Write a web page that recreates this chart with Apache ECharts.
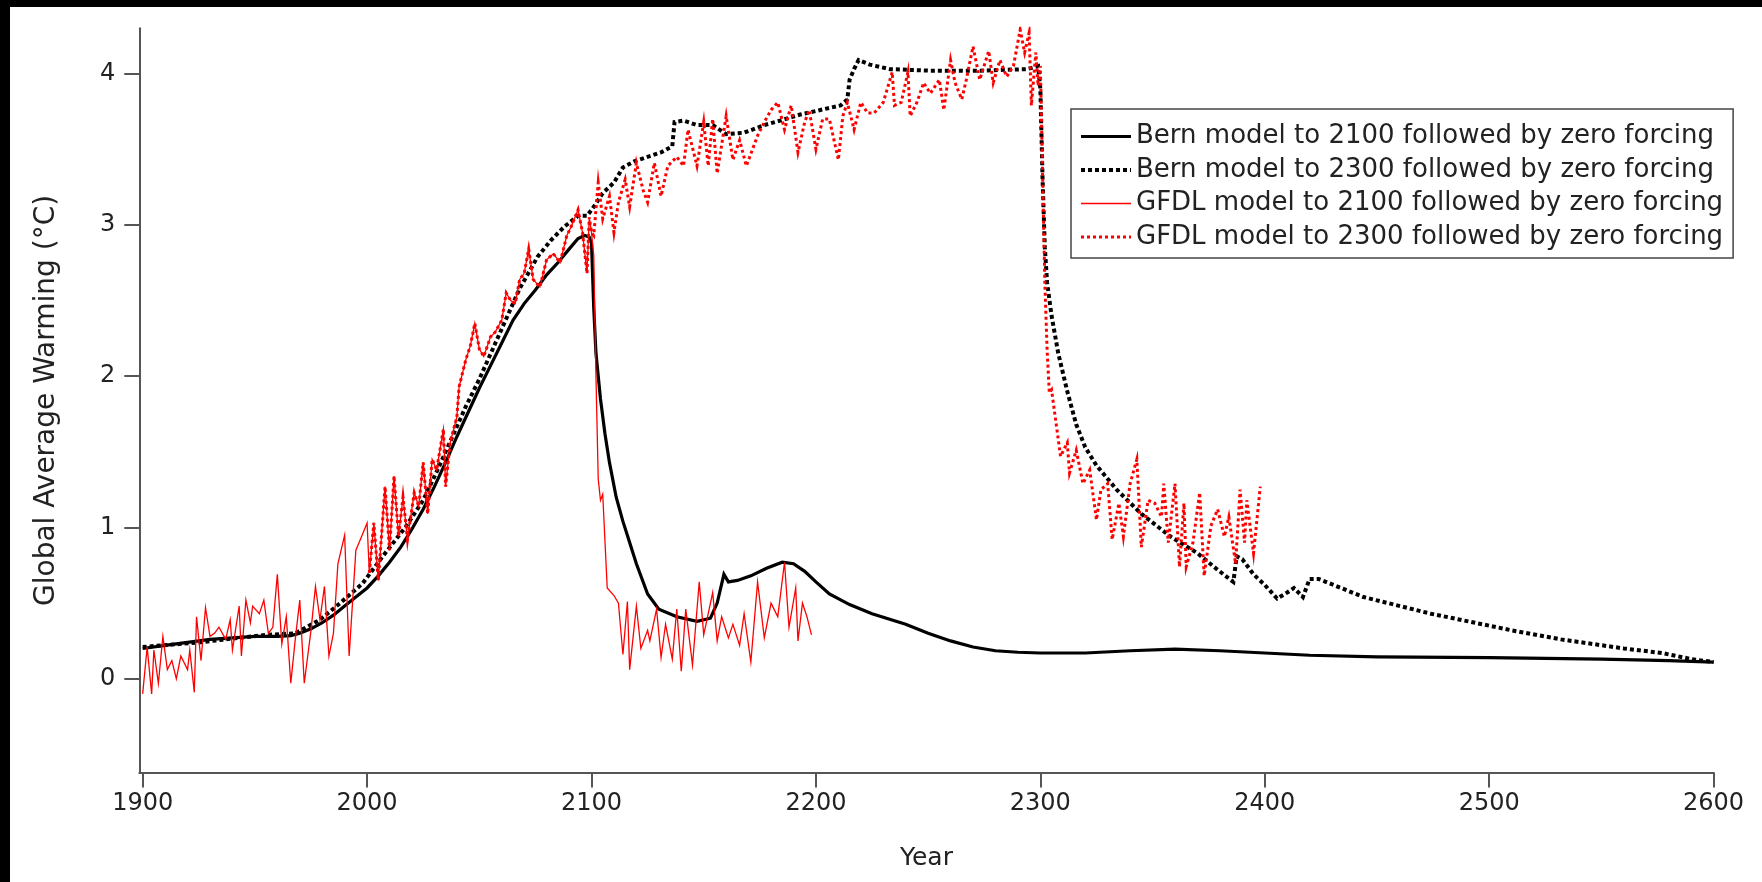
<!DOCTYPE html>
<html><head><meta charset="utf-8">
<script src="https://cdn.jsdelivr.net/npm/echarts@6/dist/echarts.min.js"></script>
<style>
html,body{margin:0;padding:0;background:#000;width:1762px;height:882px;overflow:hidden}
#chart{position:absolute;left:10px;top:7px;width:1752px;height:875px;background:#fff}
</style></head><body><div id="chart"></div>
<script>
// ---- data ----
const seriesNames = [
  'Bern model to 2100 followed by zero forcing',
  'Bern model to 2300 followed by zero forcing',
  'GFDL model to 2100 followed by zero forcing',
  'GFDL model to 2300 followed by zero forcing'
];
const xTicks = [1900, 2000, 2100, 2200, 2300, 2400, 2500, 2600];
const yTicks = [0, 1, 2, 3, 4];

const bern2100 = [[1900,0.20],[1910,0.22],[1920,0.24],[1930,0.26],[1940,0.27],[1950,0.28],[1960,0.28],[1966,0.285],[1970,0.30],[1975,0.33],[1980,0.37],[1985,0.42],[1990,0.48],[1995,0.54],[2000,0.60],[2005,0.68],[2010,0.77],[2015,0.87],[2020,0.99],[2025,1.12],[2030,1.27],[2035,1.43],[2040,1.60],[2045,1.76],[2050,1.92],[2055,2.07],[2060,2.22],[2065,2.37],[2070,2.48],[2075,2.57],[2080,2.67],[2085,2.75],[2090,2.84],[2094,2.91],[2097,2.93],[2099,2.92],[2100,2.88],[2101,2.45],[2102,2.15],[2104,1.85],[2106,1.62],[2108,1.43],[2111,1.20],[2114,1.04],[2117,0.90],[2120,0.76],[2125,0.56],[2130,0.46],[2138,0.41],[2147,0.38],[2153,0.40],[2156,0.50],[2159,0.69],[2161,0.64],[2165,0.65],[2171,0.68],[2178,0.73],[2185,0.77],[2190,0.76],[2195,0.71],[2200,0.64],[2206,0.56],[2215,0.49],[2225,0.43],[2240,0.36],[2250,0.30],[2260,0.25],[2270,0.21],[2280,0.185],[2290,0.175],[2300,0.17],[2320,0.17],[2340,0.185],[2360,0.195],[2380,0.185],[2400,0.17],[2420,0.155],[2450,0.145],[2500,0.14],[2550,0.13],[2580,0.12],[2600,0.11]];

const bern2300 = [[1900,0.21],[1925,0.24],[1955,0.29],[1968,0.30],[1979,0.39],[1988,0.50],[1998,0.63],[2007,0.81],[2017,1.00],[2025,1.18],[2032,1.40],[2038,1.60],[2044,1.80],[2050,1.98],[2056,2.18],[2062,2.38],[2068,2.58],[2076,2.79],[2082,2.90],[2088,2.99],[2094,3.06],[2098,3.06],[2101,3.12],[2105,3.21],[2110,3.28],[2114,3.38],[2119,3.42],[2125,3.45],[2131,3.48],[2136,3.52],[2137,3.68],[2141,3.69],[2147,3.66],[2154,3.66],[2160,3.60],[2168,3.61],[2177,3.66],[2184,3.69],[2193,3.73],[2202,3.76],[2211,3.79],[2214,3.83],[2215,3.96],[2217,4.03],[2219,4.09],[2224,4.06],[2233,4.03],[2251,4.02],[2273,4.02],[2294,4.03],[2299,4.05],[2300,3.90],[2301,3.30],[2302,2.85],[2303,2.62],[2305,2.40],[2308,2.15],[2312,1.90],[2316,1.68],[2320,1.53],[2325,1.41],[2334,1.25],[2345,1.09],[2358,0.94],[2370,0.83],[2379,0.72],[2386,0.64],[2387.5,0.81],[2390,0.79],[2395,0.69],[2400,0.62],[2405.5,0.53],[2410,0.57],[2413,0.60],[2417,0.54],[2420,0.66],[2424,0.66],[2444,0.54],[2474,0.43],[2510,0.32],[2532,0.26],[2560,0.20],[2577,0.17],[2590,0.13],[2600,0.11]];

// GFDL historical run (solid red only)
const gfdlHist = [[1900,-0.10],[1902,0.21],[1904,-0.10],[1905,0.19],[1907,-0.03],[1909,0.28],[1911,0.06],[1913,0.12],[1915,0.00],[1917,0.15],[1920,0.06],[1921,0.19],[1923,-0.09],[1924,0.41],[1926,0.12],[1928,0.47],[1930,0.28],[1932,0.30],[1934,0.34],[1937,0.26],[1939,0.39],[1940,0.19],[1943,0.48],[1944,0.15],[1946,0.52],[1948,0.37],[1949,0.48],[1952,0.43],[1954,0.52],[1956,0.30],[1958,0.34],[1960,0.69],[1962,0.23],[1964,0.41],[1966,-0.03],[1968,0.26],[1970,0.52],[1972,-0.03],[1975,0.32],[1977,0.61],[1979,0.39],[1981,0.61],[1983,0.15],[1985,0.30],[1987,0.76],[1990,0.95],[1992,0.15],[1995,0.85],[1997,0.92],[2000,1.03]];
// GFDL scenario 2000-2100 (shared by both GFDL runs)
const gfdlScen = [[2001,0.70],[2003,1.03],[2005,0.65],[2008,1.27],[2010,0.85],[2012,1.34],[2014,0.94],[2016,1.20],[2018,0.92],[2021,1.23],[2023,1.14],[2025,1.43],[2027,1.09],[2029,1.45],[2031,1.38],[2034,1.65],[2035,1.27],[2037,1.56],[2040,1.73],[2041,1.93],[2044,2.11],[2046,2.20],[2048,2.35],[2050,2.18],[2052,2.13],[2055,2.26],[2057,2.29],[2060,2.37],[2062,2.55],[2064,2.50],[2066,2.48],[2068,2.64],[2070,2.68],[2072,2.84],[2074,2.64],[2077,2.59],[2080,2.77],[2083,2.81],[2086,2.75],[2089,2.93],[2091,2.99],[2094,3.10],[2096,2.95],[2098,2.68],[2099,3.05],[2100,2.95]];
// GFDL zero forcing after 2100
const gfdlZero2100 = [[2101,2.80],[2102,1.99],[2103,1.32],[2104,1.18],[2105,1.22],[2107,0.60],[2110,0.55],[2112,0.50],[2114,0.16],[2116,0.51],[2117,0.06],[2120,0.48],[2122,0.20],[2125,0.32],[2126,0.25],[2129,0.46],[2131,0.14],[2133,0.36],[2136,0.13],[2138,0.46],[2140,0.05],[2142,0.46],[2145,0.09],[2148,0.64],[2150,0.29],[2154,0.57],[2156,0.25],[2158,0.41],[2161,0.27],[2163,0.36],[2166,0.22],[2168,0.43],[2171,0.11],[2174,0.64],[2177,0.27],[2180,0.50],[2183,0.41],[2186,0.77],[2188,0.34],[2191,0.60],[2192,0.25],[2194,0.50],[2196,0.41],[2198,0.29]];
// GFDL forcing continued 2100-2300
const gfdlTo2300 = [[2101,2.93],[2103,3.28],[2105,3.04],[2108,3.19],[2110,2.95],[2112,3.15],[2115,3.30],[2117,3.12],[2120,3.41],[2123,3.23],[2125,3.15],[2128,3.41],[2131,3.19],[2134,3.39],[2138,3.45],[2141,3.39],[2143,3.63],[2147,3.39],[2150,3.68],[2152,3.39],[2154,3.70],[2156,3.34],[2160,3.72],[2163,3.43],[2166,3.56],[2169,3.39],[2174,3.59],[2177,3.68],[2180,3.76],[2183,3.81],[2186,3.63],[2189,3.79],[2192,3.48],[2195,3.68],[2197,3.76],[2200,3.50],[2203,3.70],[2206,3.70],[2210,3.43],[2212,3.72],[2214,3.81],[2217,3.63],[2220,3.81],[2223,3.74],[2226,3.74],[2230,3.81],[2234,4.01],[2235,3.79],[2238,3.81],[2241,4.01],[2242,3.72],[2245,3.81],[2248,3.94],[2251,3.87],[2255,3.96],[2257,3.76],[2260,4.09],[2262,3.94],[2265,3.83],[2267,3.96],[2270,4.18],[2273,3.96],[2277,4.15],[2279,3.94],[2282,4.09],[2285,3.98],[2288,4.05],[2291,4.29],[2293,4.14],[2295,4.27],[2296,3.79],[2298,4.14],[2299,3.92],[2300,4.05]];
// GFDL zero forcing after 2300
const gfdlZero2300 = [[2302,2.62],[2303,2.18],[2304,1.89],[2305,1.91],[2307,1.69],[2309,1.47],[2312,1.56],[2313,1.36],[2316,1.51],[2319,1.29],[2322,1.38],[2325,1.05],[2327,1.25],[2330,1.29],[2332,0.92],[2335,1.16],[2337,0.94],[2340,1.29],[2343,1.45],[2345,0.87],[2348,1.18],[2351,1.16],[2354,1.07],[2355,1.29],[2357,0.90],[2360,1.29],[2362,0.74],[2364,1.16],[2365,0.74],[2368,0.90],[2371,1.23],[2373,0.68],[2376,1.01],[2379,1.12],[2382,0.94],[2384,1.07],[2387,0.76],[2389,1.25],[2391,0.90],[2392,1.18],[2395,0.83],[2398,1.27]];

// ---- build ----
const gfdl2100 = gfdlHist.concat(gfdlScen, gfdlZero2100);
const gfdl2300 = gfdlScen.concat(gfdlTo2300, gfdlZero2300);

const FONT = "'DejaVu Sans', Verdana, sans-serif";
const AX = '#555';
const TXT = '#222';

function line(name, data, color, width, type) {
  return {
    name, type: 'line', data, showSymbol: false, symbol: 'none',
    animation: false, clip: true,
    lineStyle: { color, width, type, cap: 'butt', join: 'miter' },
    itemStyle: { color },
    emphasis: { disabled: true }
  };
}

const chart = echarts.init(document.getElementById('chart'), null, { renderer: 'canvas' });
chart.setOption({
  backgroundColor: '#fff',
  animation: false,
  grid: { left: 129.3, top: 21.3, width: 1574.3, height: 744.2, containLabel: false, outerBoundsMode: 'none' },
  xAxis: {
    type: 'value', min: 1898.5, max: 2600,
    name: 'Year', nameLocation: 'middle', nameGap: 73,
    nameTextStyle: { fontFamily: FONT, fontSize: 25, color: TXT },
    axisLine: { show: true, onZero: false, lineStyle: { color: AX, width: 2 } },
    axisTick: { show: true, inside: false, length: 15, customValues: xTicks, lineStyle: { color: AX, width: 2 } },
    axisLabel: { customValues: xTicks, margin: 19, fontFamily: FONT, fontSize: 24, color: TXT,
                 formatter: v => String(Math.round(v)) },
    splitLine: { show: false }
  },
  yAxis: {
    type: 'value', min: -0.62, max: 4.30,
    name: 'Global Average Warming (°C)', nameLocation: 'middle', nameGap: 79, nameRotate: 90,
    nameTextStyle: { fontFamily: FONT, fontSize: 28, color: TXT },
    axisLine: { show: true, onZero: false, lineStyle: { color: AX, width: 2 } },
    axisTick: { show: true, inside: false, length: 15, customValues: yTicks, lineStyle: { color: AX, width: 2 } },
    axisLabel: { customValues: yTicks, margin: 24, fontFamily: FONT, fontSize: 24, color: TXT,
                 formatter: v => String(Math.round(v)) },
    splitLine: { show: false }
  },
  legend: {
    data: seriesNames,
    orient: 'vertical', left: 1061, top: 102,
    backgroundColor: '#fff', borderColor: '#444', borderWidth: 1.5, borderRadius: 0,
    padding: [14.5, 10, 8, 8],
    itemWidth: 50, itemHeight: 20, itemGap: 7.5,
    selectedMode: false,
    itemStyle: { opacity: 0, borderWidth: 0 },
    lineStyle: { width: 'inherit', type: 'inherit' },
    textStyle: { fontFamily: FONT, fontSize: 26, color: TXT, lineHeight: 26 }
  },
  series: [
    line(seriesNames[0], bern2100, '#000', 3.2, 'solid'),
    line(seriesNames[1], bern2300, '#000', 4, [4, 3]),
    line(seriesNames[2], gfdl2100, '#ff0000', 1.3, 'solid'),
    line(seriesNames[3], gfdl2300, '#ff0000', 3, [3, 3])
  ]
});
</script></body></html>
